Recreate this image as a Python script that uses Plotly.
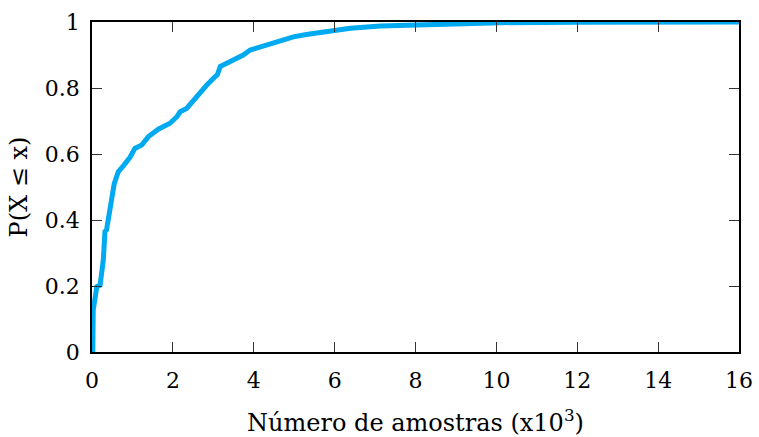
import plotly.graph_objects as go

# CDF curve (x in thousands of samples)
x_vals = [0.0, 0.02, 0.03, 0.08, 0.12, 0.2, 0.28, 0.32, 0.36, 0.40, 0.45, 0.49, 0.55, 0.65, 0.69, 0.78,
          0.94, 1.06, 1.23, 1.39, 1.64, 1.93, 2.1, 2.18, 2.34, 2.51, 2.67, 2.84, 3.04, 3.1, 3.17,
          3.5, 3.74, 3.91, 4.32, 4.65, 4.98, 5.3, 5.64, 5.97, 6.14, 6.39, 7.13, 8.04, 9.0, 10.1,
          12.0, 14.0, 16.0]
y_vals = [0.0, 0.0, 0.127, 0.17, 0.198, 0.203, 0.279, 0.365, 0.37, 0.40, 0.44, 0.476, 0.51, 0.546, 0.553, 0.565,
          0.59, 0.617, 0.627, 0.652, 0.675, 0.693, 0.713, 0.728, 0.738, 0.764, 0.789, 0.809, 0.834, 0.84, 0.865,
          0.885, 0.9, 0.915, 0.93, 0.945, 0.955, 0.962, 0.968, 0.973, 0.978, 0.981, 0.988, 0.992, 0.995, 0.998,
          0.999, 1.0, 1.0]

x_ticks = [0, 2, 4, 6, 8, 10, 12, 14, 16]
y_ticks = [0, 0.2, 0.4, 0.6, 0.8, 1]
y_tick_text = ["0", "0.2", "0.4", "0.6", "0.8", "1"]

font_family = "DejaVu Serif"

fig = go.Figure()
fig.add_trace(go.Scatter(x=x_vals, y=y_vals, mode="lines",
                         line=dict(color="#00aaf0", width=5), showlegend=False))

axis_common = dict(showline=True, linecolor="black", linewidth=1.5, mirror="ticks",
                   ticks="inside", ticklen=10, tickwidth=1, tickcolor="#333333",
                   showgrid=False, zeroline=False, automargin=False,
                   tickfont=dict(family=font_family, size=22, color="black"))

fig.update_xaxes(range=[0, 16], tickvals=x_ticks, ticktext=[str(t) for t in x_ticks],
                 ticklabelstandoff=8,
                 title=dict(text="Número de amostras (x10<sup>3</sup>)",
                            font=dict(family=font_family, size=24, color="black"), standoff=29),
                 **axis_common)
fig.update_yaxes(range=[0, 1], tickvals=y_ticks, ticktext=y_tick_text,
                 ticklabelstandoff=6,
                 title=dict(text="P(X ≤ x)",
                            font=dict(family=font_family, size=24, color="black"), standoff=10),
                 **axis_common)

fig.update_layout(width=759, height=437, margin=dict(l=92, r=20, t=22, b=85),
                  plot_bgcolor="white", paper_bgcolor="white",
                  font=dict(family=font_family, size=22, color="black"))

fig.write_html("out.html")
